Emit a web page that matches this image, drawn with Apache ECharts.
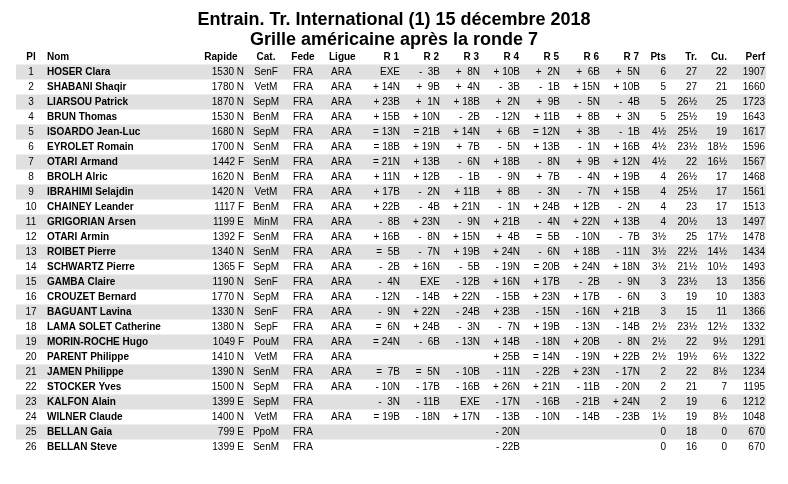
<!DOCTYPE html>
<head>
    <meta charset="utf-8">
    <title>Grille américaine</title>
    <script src="https://cdn.jsdelivr.net/npm/echarts@6/dist/echarts.min.js"></script>
</head>
<body style="margin:0">
<div id="main" style="width:788px;height:484px"></div>
<script type="text/javascript">
// données de la grille
var pl = ['1','2','3','4','5','6','7','8','9','10','11','12','13','14','15','16','17','18','19','20','21','22','23','24','25','26'];
var noms = ['HOSER Clara','SHABANI Shaqir','LIARSOU Patrick','BRUN Thomas','ISOARDO Jean-Luc','EYROLET Romain','OTARI Armand','BROLH Alric','IBRAHIMI Selajdin','CHAINEY Leander','GRIGORIAN Arsen','OTARI Armin','ROIBET Pierre','SCHWARTZ Pierre','GAMBA Claire','CROUZET Bernard','BAGUANT Lavina','LAMA SOLET Catherine','MORIN-ROCHE Hugo','PARENT Philippe','JAMEN Philippe','STOCKER Yves','KALFON Alain','WILNER Claude','BELLAN Gaia','BELLAN Steve'];
var rapide = ['1530 N','1780 N','1870 N','1530 N','1680 N','1700 N','1442 F','1620 N','1420 N','1117 F','1199 E','1392 F','1340 N','1365 F','1190 N','1770 N','1330 N','1380 N','1049 F','1410 N','1390 N','1500 N','1399 E','1400 N','799 E','1399 E'];
var cat = ['SenF','VetM','SepM','BenM','SepM','SenM','SenM','BenM','VetM','BenM','MinM','SenM','SenM','SepM','SenF','SepM','SenF','SepF','PouM','VetM','SenM','SepM','SepM','VetM','PpoM','SenM'];
var fede = ['FRA','FRA','FRA','FRA','FRA','FRA','FRA','FRA','FRA','FRA','FRA','FRA','FRA','FRA','FRA','FRA','FRA','FRA','FRA','FRA','FRA','FRA','FRA','FRA','FRA','FRA'];
var ligue = ['ARA','ARA','ARA','ARA','ARA','ARA','ARA','ARA','ARA','ARA','ARA','ARA','ARA','ARA','ARA','ARA','ARA','ARA','ARA','ARA','ARA','ARA','','ARA','',''];
var r1 = ['EXE','+ 14N','+ 23B','+ 15B','= 13N','= 18B','= 21N','+ 11N','+ 17B','+ 22B','- 8B','+ 16B','= 5B','- 2B','- 4N','- 12N','- 9N','= 6N','= 24N','','= 7B','- 10N','- 3N','= 19B','',''];
var r2 = ['- 3B','+ 9B','+ 1N','+ 10N','= 21B','+ 19N','+ 13B','+ 12B','- 2N','- 4B','+ 23N','- 8N','- 7N','+ 16N','EXE','- 14B','+ 22N','+ 24B','- 6B','','= 5N','- 17B','- 11B','- 18N','',''];
var r3 = ['+ 8N','+ 4N','+ 18B','- 2B','+ 14N','+ 7B','- 6N','- 1B','+ 11B','+ 21N','- 9N','+ 15N','+ 19B','- 5B','- 12B','+ 22N','- 24B','- 3N','- 13N','','- 10B','- 16B','EXE','+ 17N','',''];
var r4 = ['+ 10B','- 3B','+ 2N','- 12N','+ 6B','- 5N','+ 18B','- 9N','+ 8B','- 1N','+ 21B','+ 4B','+ 24N','- 19N','+ 16N','- 15B','+ 23B','- 7N','+ 14B','+ 25B','- 11N','+ 26N','- 17N','- 13B','- 20N','- 22B'];
var r5 = ['+ 2N','- 1B','+ 9B','+ 11B','= 12N','+ 13B','- 8N','+ 7B','- 3N','+ 24B','- 4N','= 5B','- 6N','= 20B','+ 17B','+ 23N','- 15N','+ 19B','- 18N','= 14N','- 22B','+ 21N','- 16B','- 10N','',''];
var r6 = ['+ 6B','+ 15N','- 5N','+ 8B','+ 3B','- 1N','+ 9B','- 4N','- 7N','+ 12B','+ 22N','- 10N','+ 18B','+ 24N','- 2B','+ 17B','- 16N','- 13N','+ 20B','- 19N','+ 23N','- 11B','- 21B','- 14B','',''];
var r7 = ['+ 5N','+ 10B','- 4B','+ 3N','- 1B','+ 16B','+ 12N','+ 19B','+ 15B','- 2N','+ 13B','- 7B','- 11N','+ 18N','- 9N','- 6N','+ 21B','- 14B','- 8N','+ 22B','- 17N','- 20N','+ 24N','- 23B','',''];
var pts = ['6','5','5','5','4½','4½','4½','4','4','4','4','3½','3½','3½','3','3','3','2½','2½','2½','2','2','2','1½','0','0'];
var tr = ['27','27','26½','25½','25½','23½','22','26½','25½','23','20½','25','22½','21½','23½','19','15','23½','22','19½','22','21','19','19','18','16'];
var cu = ['22','21','25','19','19','18½','16½','17','17','17','13','17½','14½','10½','13','10','11','12½','9½','6½','8½','7','6','8½','0','0'];
var perf = ['1907','1660','1723','1643','1617','1596','1567','1468','1561','1513','1497','1478','1434','1493','1356','1383','1366','1332','1291','1322','1234','1195','1212','1048','670','670'];

// colonnes : [en-tête, valeurs, x, alignement, x en-tête, alignement en-tête, gras]
var cols = [
    ['Pl', pl, 31, 'center', 31, 'center', false],
    ['Nom', noms, 47, 'left', 47, 'left', true],
    ['Rapide', rapide, 244, 'right', 221, 'center', false],
    ['Cat.', cat, 266, 'center', 266, 'center', false],
    ['Fede', fede, 303, 'center', 303, 'center', false],
    ['Ligue', ligue, 331, 'left', 329, 'left', false],
    ['R 1', r1, 400, 'right', 399, 'right', false],
    ['R 2', r2, 440, 'right', 439, 'right', false],
    ['R 3', r3, 480, 'right', 479, 'right', false],
    ['R 4', r4, 520, 'right', 519, 'right', false],
    ['R 5', r5, 560, 'right', 559, 'right', false],
    ['R 6', r6, 600, 'right', 599, 'right', false],
    ['R 7', r7, 640, 'right', 639, 'right', false],
    ['Pts', pts, 666, 'right', 666, 'right', false],
    ['Tr.', tr, 697, 'right', 697, 'right', false],
    ['Cu.', cu, 727, 'right', 727, 'right', false],
    ['Perf', perf, 765, 'right', 765, 'right', false]
];

var rows = ['h'].concat(pl);
var FONT = '"Liberation Sans", Arial, sans-serif';

var cells = [];
for (var r = 0; r < rows.length; r++) {
    for (var c = 0; c < cols.length; c++) cells.push([c, r]);
}
var stripes = [];
for (var i = 0; i < pl.length; i += 2) stripes.push([0, i + 1]);

function fmt(s) {
    // un chiffre : espace supplémentaire comme dans l'original
    return s.replace(/^([+=-]) (\d[BN])$/, '$1  $2');
}

var myChart = echarts.init(document.getElementById('main'));
var option = {
    backgroundColor: '#fff',
    animation: false,
    title: {
        text: 'Entrain. Tr. International (1) 15 décembre 2018\nGrille américaine après la ronde 7',
        left: 'center',
        top: 5,
        textStyle: { fontFamily: FONT, fontSize: 18, fontWeight: 'bold', color: '#000', lineHeight: 20 }
    },
    grid: { left: 0, right: 0, top: 49.5, bottom: 29.5 },
    xAxis: { type: 'value', min: 0, max: 788, show: false },
    yAxis: { type: 'category', data: rows, inverse: true, show: false },
    series: [{
        type: 'custom',
        data: stripes,
        renderItem: function (params, api) {
            var p = api.coord([16, api.value(1)]);
            var h = api.size([0, 1])[1];
            return { type: 'rect', shape: { x: p[0], y: p[1] - h / 2, width: 750, height: h },
                     style: { fill: '#e0e0e0' } };
        }
    }, {
        type: 'custom',
        data: cells,
        renderItem: function (params, api) {
            var c = api.value(0), r = api.value(1);
            var col = cols[c];
            var head = r === 0;
            var txt = head ? col[0] : fmt(col[1][r - 1]);
            var p = api.coord([head ? col[4] : col[2], r]);
            return { type: 'text', x: p[0], y: p[1],
                     style: { text: txt, textAlign: head ? col[5] : col[3], textVerticalAlign: 'middle',
                              font: ((head || col[6]) ? 'bold ' : '') + '10px ' + FONT, fill: '#000' } };
        }
    }]
};
myChart.setOption(option);
</script>
</body>
